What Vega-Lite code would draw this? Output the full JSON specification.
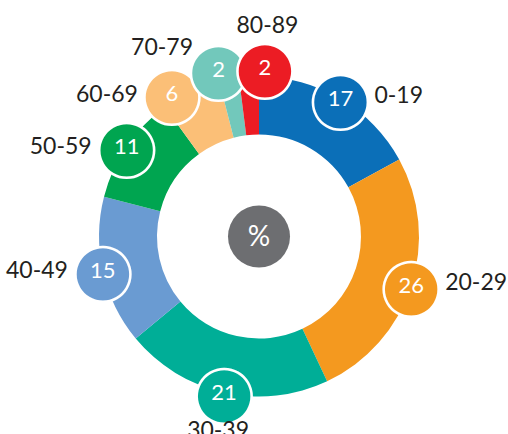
{
  "$schema": "https://vega.github.io/schema/vega-lite/v6.json",
  "width": 508,
  "height": 434,
  "autosize": {"type": "fit", "contains": "padding"},
  "padding": {"left": 10, "top": 34, "right": 0, "bottom": 0},
  "background": "white",
  "config": {"view": {"stroke": null}, "text": {"font": "Lato"}},
  "data": {
    "values": [
      {"age": "0-19", "value": 17},
      {"age": "20-29", "value": 26},
      {"age": "30-39", "value": 21},
      {"age": "40-49", "value": 15},
      {"age": "50-59", "value": 11},
      {"age": "60-69", "value": 6},
      {"age": "70-79", "value": 2},
      {"age": "80-89", "value": 2}
    ]
  },
  "encoding": {
    "theta": {"field": "value", "type": "quantitative", "stack": true},
    "order": {"field": "age", "type": "nominal", "sort": "ascending"},
    "color": {
      "field": "age",
      "type": "nominal",
      "legend": null,
      "scale": {
        "domain": ["0-19", "20-29", "30-39", "40-49", "50-59", "60-69", "70-79", "80-89"],
        "range": ["#0b6fb8", "#f4991f", "#00ae97", "#6a9bd2", "#00a550", "#fbbf77", "#72c8bb", "#ec1c24"]
      }
    }
  },
  "layer": [
    {"mark": {"type": "arc", "outerRadius": 160, "innerRadius": 102}},
    {
      "mark": {"type": "text", "radius": 160, "font": "DejaVu Sans", "fontSize": 72, "baseline": "middle", "align": "center", "stroke": "white", "strokeWidth": 2.5},
      "encoding": {"text": {"condition": {"test": "indexof(['0-19','20-29','30-39','40-49','50-59'], datum.age) >= 0", "value": "●"}, "value": ""}}
    },
    {
      "mark": {"type": "text", "radius": 160, "font": "DejaVu Sans", "fontSize": 72, "baseline": "middle", "align": "center", "stroke": "white", "strokeWidth": 2.5, "dx": -19, "dy": 2},
      "encoding": {"text": {"condition": {"test": "datum.age === '60-69'", "value": "●"}, "value": ""}}
    },
    {
      "mark": {"type": "text", "radius": 160, "font": "DejaVu Sans", "fontSize": 72, "baseline": "middle", "align": "center", "stroke": "white", "strokeWidth": 2.5, "dx": -10.5, "dy": -9},
      "encoding": {"text": {"condition": {"test": "datum.age === '70-79'", "value": "●"}, "value": ""}}
    },
    {
      "mark": {"type": "text", "radius": 160, "font": "DejaVu Sans", "fontSize": 72, "baseline": "middle", "align": "center", "stroke": "white", "strokeWidth": 2.5, "dx": 16, "dy": -9},
      "encoding": {"text": {"condition": {"test": "datum.age === '80-89'", "value": "●"}, "value": ""}}
    },
    {
      "mark": {"type": "text", "radius": 160, "fontSize": 22, "baseline": "middle", "align": "center"},
      "encoding": {"color": {"value": "white"}, "text": {"condition": {"test": "indexof(['0-19','20-29','30-39','40-49','50-59'], datum.age) >= 0", "field": "value", "type": "quantitative"}, "value": ""}}
    },
    {
      "mark": {"type": "text", "radius": 160, "fontSize": 22, "baseline": "middle", "align": "center", "dx": -19, "dy": 2},
      "encoding": {"color": {"value": "white"}, "text": {"condition": {"test": "datum.age === '60-69'", "field": "value", "type": "quantitative"}, "value": ""}}
    },
    {
      "mark": {"type": "text", "radius": 160, "fontSize": 22, "baseline": "middle", "align": "center", "dx": -10.5, "dy": -9},
      "encoding": {"color": {"value": "white"}, "text": {"condition": {"test": "datum.age === '70-79'", "field": "value", "type": "quantitative"}, "value": ""}}
    },
    {
      "mark": {"type": "text", "radius": 160, "fontSize": 22, "baseline": "middle", "align": "center", "dx": 16, "dy": -9},
      "encoding": {"color": {"value": "white"}, "text": {"condition": {"test": "datum.age === '80-89'", "field": "value", "type": "quantitative"}, "value": ""}}
    },
    {
      "mark": {"type": "text", "radius": 160, "fontSize": 23, "baseline": "middle", "align": "left", "dx": 34, "dy": -3},
      "encoding": {"color": {"value": "#231f20"}, "text": {"condition": {"test": "indexof(['0-19','20-29'], datum.age) >= 0", "field": "age", "type": "nominal"}, "value": ""}}
    },
    {
      "mark": {"type": "text", "radius": 160, "fontSize": 23, "baseline": "middle", "align": "right", "dx": -35, "dy": 0},
      "encoding": {"color": {"value": "#231f20"}, "text": {"condition": {"test": "indexof(['40-49','50-59'], datum.age) >= 0", "field": "age", "type": "nominal"}, "value": ""}}
    },
    {
      "mark": {"type": "text", "radius": 160, "fontSize": 23, "baseline": "middle", "align": "right", "dx": -53, "dy": 3},
      "encoding": {"color": {"value": "#231f20"}, "text": {"condition": {"test": "datum.age === '60-69'", "field": "age", "type": "nominal"}, "value": ""}}
    },
    {
      "mark": {"type": "text", "radius": 160, "fontSize": 23, "baseline": "middle", "align": "right", "dx": -36, "dy": -31},
      "encoding": {"color": {"value": "#231f20"}, "text": {"condition": {"test": "datum.age === '70-79'", "field": "age", "type": "nominal"}, "value": ""}}
    },
    {
      "mark": {"type": "text", "radius": 160, "fontSize": 23, "baseline": "middle", "align": "center", "dx": 18.5, "dy": -51},
      "encoding": {"color": {"value": "#231f20"}, "text": {"condition": {"test": "datum.age === '80-89'", "field": "age", "type": "nominal"}, "value": ""}}
    },
    {
      "mark": {"type": "text", "radius": 160, "fontSize": 23, "baseline": "middle", "align": "center", "dx": -6, "dy": 38},
      "encoding": {"color": {"value": "#231f20"}, "text": {"condition": {"test": "datum.age === '30-39'", "field": "age", "type": "nominal"}, "value": ""}}
    },
    {
      "data": {"values": [{"symbol": "%"}]},
      "mark": {"type": "arc", "outerRadius": 31, "innerRadius": 0, "color": "#6d6e71"},
      "encoding": {"theta": null, "order": null, "color": null}
    },
    {
      "data": {"values": [{"symbol": "%"}]},
      "mark": {"type": "text", "fontSize": 28, "baseline": "middle", "align": "center", "color": "white", "dy": 1},
      "encoding": {"theta": null, "order": null, "color": null, "text": {"field": "symbol", "type": "nominal"}}
    }
  ]
}
